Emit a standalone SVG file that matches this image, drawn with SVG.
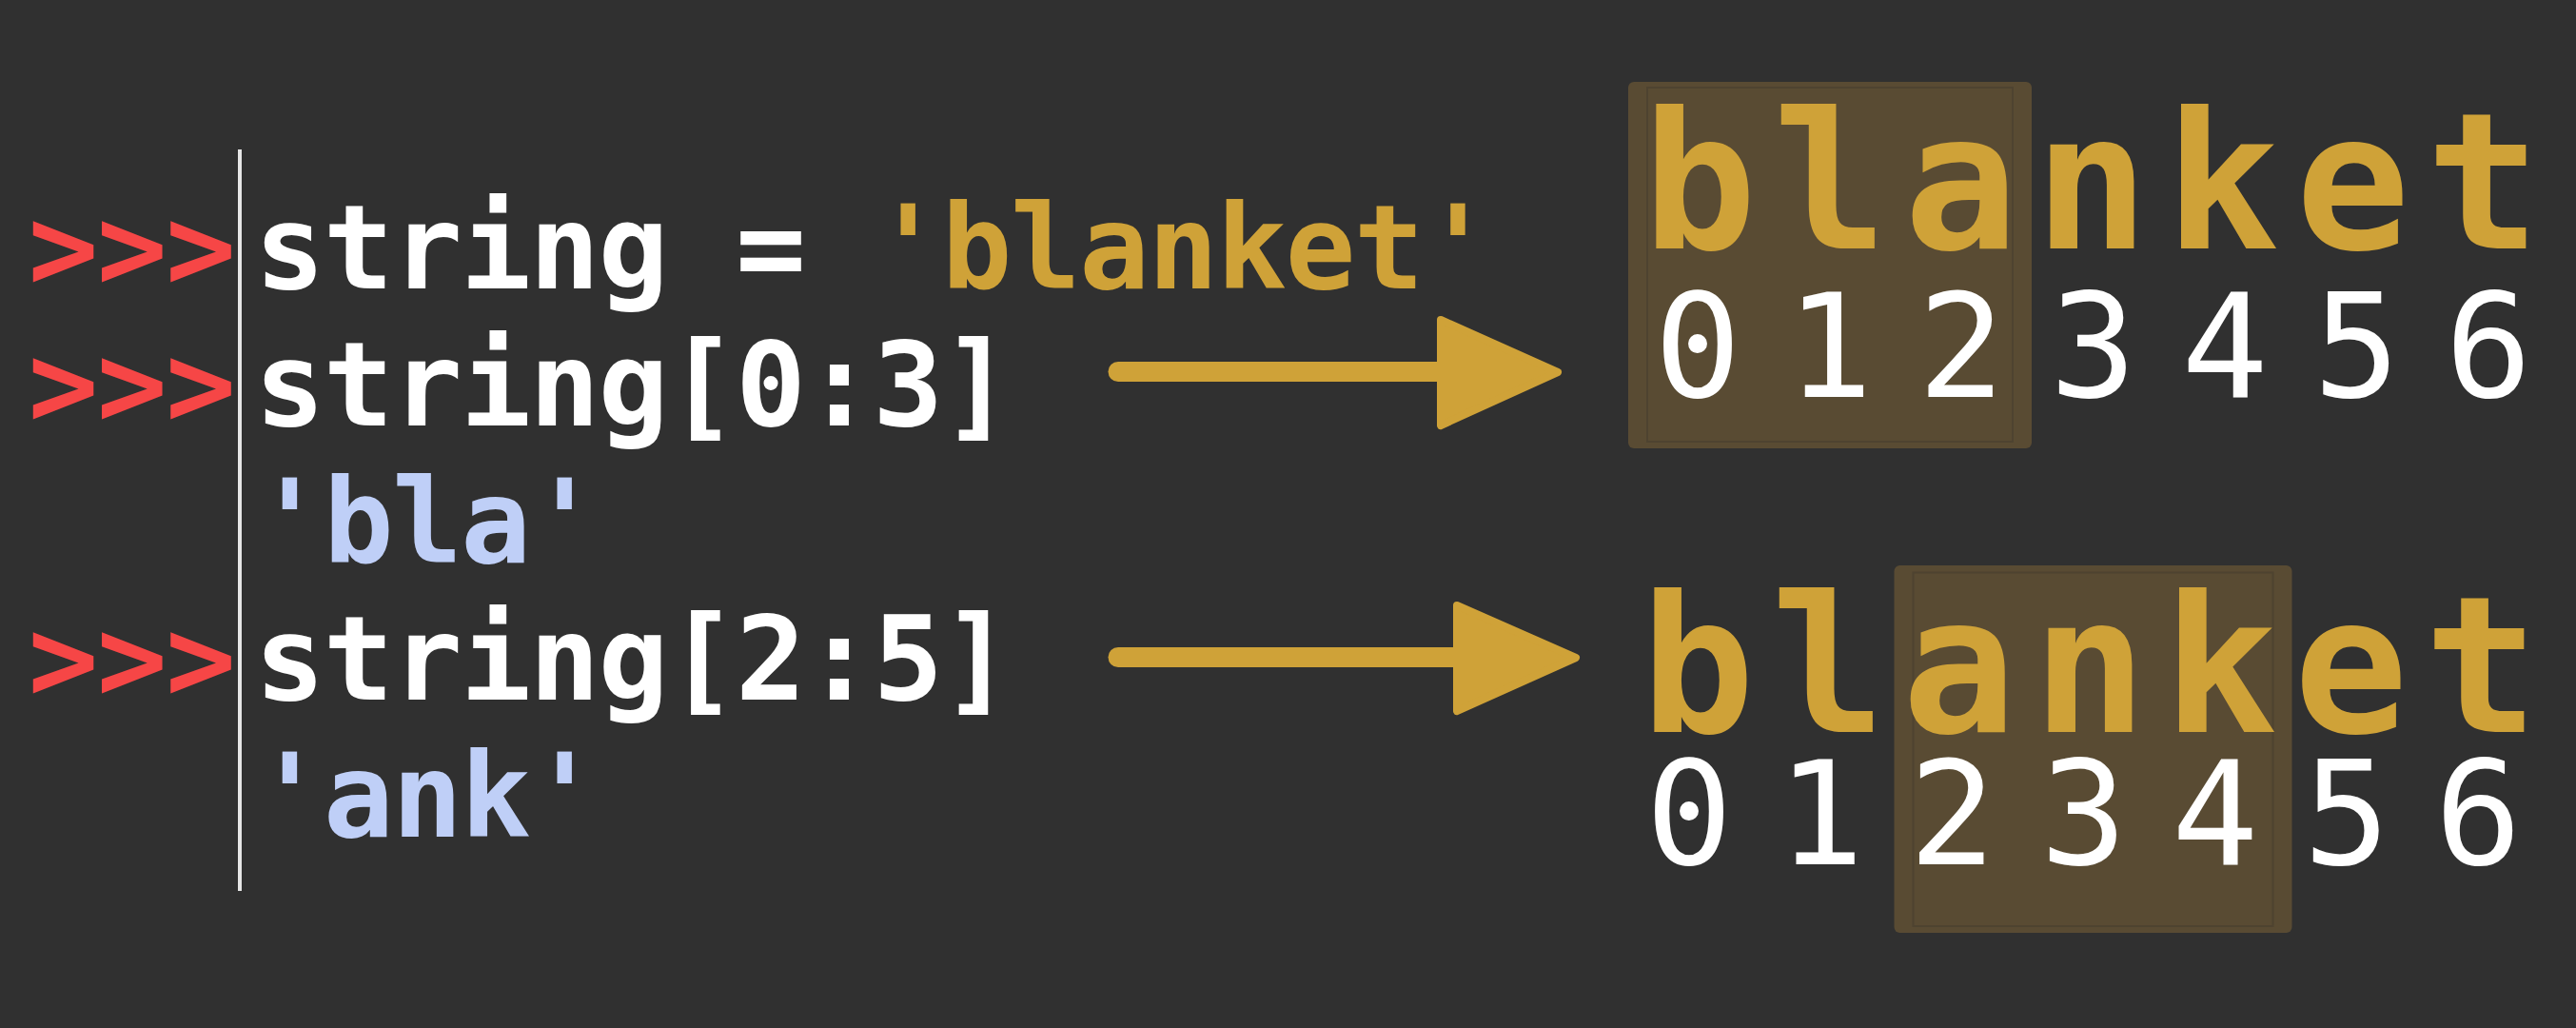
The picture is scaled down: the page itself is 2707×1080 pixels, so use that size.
<svg xmlns="http://www.w3.org/2000/svg" width="2707" height="1080" viewBox="0 0 2707 1080">
<style>
.mono{font-family:"DejaVu Sans Mono","Liberation Mono",monospace;font-weight:bold;font-size:123px;letter-spacing:-1.85px}
.prompt{fill:#f64646}
.code{fill:#ffffff}
.str{fill:#cfa238}
.out{fill:#bfcff7}
.big{font-family:"DejaVu Sans Mono","Liberation Mono",monospace;font-weight:bold;font-size:200px;fill:#cfa238;text-anchor:middle}
.idx{font-family:"DejaVu Sans Mono","Liberation Mono",monospace;font-weight:normal;font-size:152px;fill:#ffffff;text-anchor:middle}
.hl{fill:#594b33}
.hlin{fill:none;stroke:#4e4330;stroke-width:2}
.shaft{stroke:#cfa238;stroke-width:21;stroke-linecap:round;fill:none}
.head{fill:#cfa238;stroke:#cfa238;stroke-width:8;stroke-linejoin:round}
</style>
<rect x="0" y="0" width="2707" height="1080" fill="#303030"/>
<g id="console">
  <line x1="252" y1="157" x2="252" y2="936" stroke="#e6e6e6" stroke-width="4"/>
  <g id="line1">
    <text class="mono prompt" x="29.5" y="303">&gt;&gt;&gt;</text>
    <text class="mono" x="267.5" y="303" xml:space="preserve"><tspan class="code">string = </tspan><tspan class="str">'blanket'</tspan></text>
  </g>
  <g id="line2">
    <text class="mono prompt" x="29.5" y="447">&gt;&gt;&gt;</text>
    <text class="mono code" x="267.5" y="447">string[0:3]</text>
  </g>
  <g id="line3">
    <text class="mono out" x="267.5" y="591">'bla'</text>
  </g>
  <g id="line4">
    <text class="mono prompt" x="29.5" y="735">&gt;&gt;&gt;</text>
    <text class="mono code" x="267.5" y="735">string[2:5]</text>
  </g>
  <g id="line5">
    <text class="mono out" x="267.5" y="879">'ank'</text>
  </g>
</g>
<g id="slice1">
  <rect class="hl" x="1711" y="86" width="424" height="385" rx="6"/>
  <rect class="hlin" x="1731" y="92" width="384" height="372"/>
  <text class="big" x="1786 1923.3 2060.6 2197.9 2335.2 2472.5 2609.8" y="261">blanket</text>
  <text class="idx" x="1784 1922.5 2061 2199.5 2338 2476.5 2615" y="417">0123456</text>
</g>
<g id="slice2">
  <rect class="hl" x="1990.5" y="594" width="418" height="386" rx="6"/>
  <rect class="hlin" x="2010.5" y="601.5" width="378" height="371.5"/>
  <text class="big" x="1784 1921.3 2058.6 2195.9 2333.2 2470.5 2607.8" y="769">blanket</text>
  <text class="idx" x="1775 1913.2 2051.4 2189.6 2327.8 2466 2604.2" y="908">0123456</text>
</g>
<g id="connectors">
  <g id="arrow1">
    <line class="shaft" x1="1175" y1="390.5" x2="1515" y2="390.5"/>
    <polygon class="head" points="1514,336 1637,391 1514,447"/>
  </g>
  <g id="arrow2">
    <line class="shaft" x1="1175" y1="690.5" x2="1532" y2="690.5"/>
    <polygon class="head" points="1531,636 1656,691 1531,747"/>
  </g>
</g>
</svg>
